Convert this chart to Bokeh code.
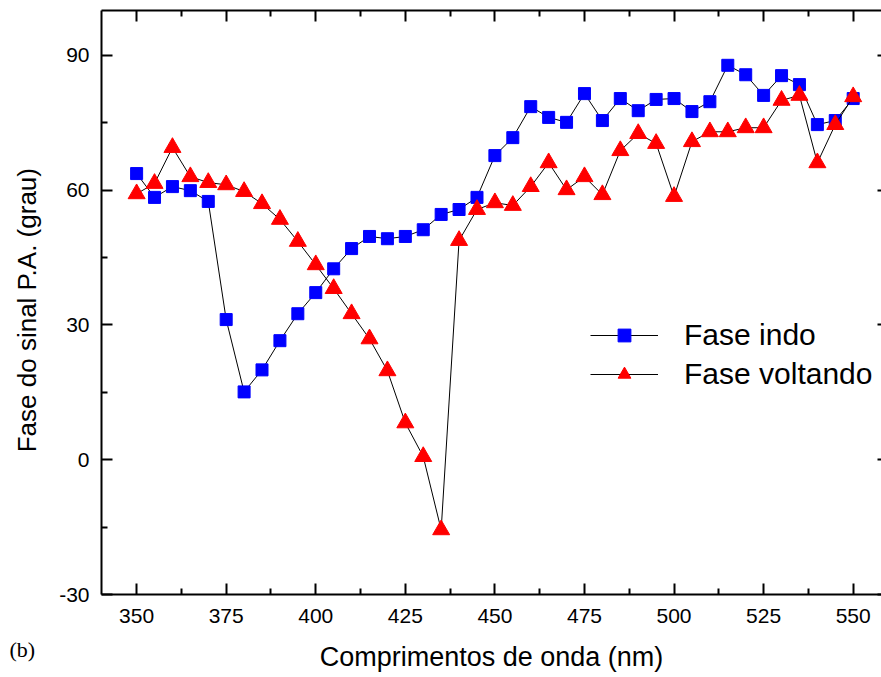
import math
from bokeh.plotting import figure
from bokeh.models import (ColumnDataSource, LinearAxis, FixedTicker, Range1d,
                          Legend, LegendItem, Label)
from bokeh.embed import file_html
from bokeh.resources import INLINE

# ---- data -----------------------------------------------------------------
wavelength = list(range(350, 551, 5))

fase_indo = [63.7, 58.4, 60.8, 59.9, 57.5, 31.2, 15.1, 20.0, 26.5, 32.5,
             37.2, 42.5, 47.0, 49.7, 49.2, 49.7, 51.2, 54.6, 55.7, 58.4,
             67.7, 71.7, 78.6, 76.2, 75.1, 81.5, 75.5, 80.4, 77.7, 80.2,
             80.4, 77.5, 79.7, 87.8, 85.7, 81.1, 85.5, 83.5, 74.6, 75.5,
             80.4]

fase_voltando = [59.2, 61.5, 69.5, 63.0, 61.7, 61.2, 59.7, 57.0, 53.5, 48.6,
                 43.4, 38.1, 32.5, 26.9, 19.8, 8.2, 0.7, -15.6, 48.8, 55.7,
                 57.2, 56.6, 60.8, 66.1, 60.1, 63.0, 59.0, 68.8, 72.6, 70.4,
                 58.6, 70.8, 73.0, 73.0, 73.9, 73.9, 80.0, 81.1, 66.1, 74.6,
                 80.8]

x_ticks = [350, 375, 400, 425, 450, 475, 500, 525, 550]
x_minor = [362.5, 387.5, 412.5, 437.5, 462.5, 487.5, 512.5, 537.5, 562.5]
y_ticks = [-30, 0, 30, 60, 90]
y_tick_labels = ["-30", "0", "30", "60", "90"]
y_minor = [-15, 15, 45, 75]

series_names = ["Fase indo", "Fase voltando"]
x_label = "Comprimentos de onda (nm)"
y_label = "Fase do sinal P.A.  (grau)"
panel_tag = "(b)"

# ---- figure ---------------------------------------------------------------
FONT = "Liberation Sans"

p = figure(width=881, height=677, output_backend="svg", toolbar_location=None,
           x_range=Range1d(340.2, 557.9), y_range=Range1d(-30, 100),
           x_axis_location=None, y_axis_location=None,
           min_border_left=100, min_border_right=0,
           min_border_top=10, min_border_bottom=83)
p.outline_line_color = None
p.xgrid.visible = False
p.ygrid.visible = False
p.background_fill_color = "white"
p.border_fill_color = "white"

xt = FixedTicker(ticks=x_ticks, minor_ticks=x_minor)
yt = FixedTicker(ticks=y_ticks, minor_ticks=y_minor)


def style(ax, labels=True):
    ax.axis_line_width = 2
    ax.axis_line_color = "black"
    ax.major_tick_line_width = 2
    ax.minor_tick_line_width = 2
    ax.major_tick_line_color = "black"
    ax.minor_tick_line_color = "black"
    ax.major_tick_in = 11
    ax.major_tick_out = 0
    ax.minor_tick_in = 6
    ax.minor_tick_out = 0
    if labels:
        ax.major_label_text_font = FONT
        ax.major_label_text_font_size = "21px"
        ax.major_label_text_color = "black"
        ax.axis_label_text_font = FONT
        ax.axis_label_text_font_style = "normal"
        ax.axis_label_text_color = "black"
    else:
        ax.major_label_overrides = {t: "" for t in ax.ticker.ticks}
        ax.major_label_standoff = 0
        ax.axis_label = None


bottom = LinearAxis(ticker=xt, axis_label=x_label)
style(bottom)
bottom.axis_label_text_font_size = "27px"
bottom.major_label_standoff = 14
bottom.axis_label_standoff = 16
p.add_layout(bottom, "below")

left = LinearAxis(ticker=yt)
style(left)
left.major_label_overrides = dict(zip(y_ticks, y_tick_labels))
left.major_label_standoff = 12
p.add_layout(left, "left")

top = LinearAxis(ticker=xt)
style(top, labels=False)
p.add_layout(top, "above")

right = LinearAxis(ticker=yt)
style(right, labels=False)
right.axis_line_color = None
right.major_tick_in = 4
right.minor_tick_in = 0
p.add_layout(right, "right")

# ---- data glyphs ----------------------------------------------------------
src = ColumnDataSource(dict(x=wavelength, a=fase_indo, b=fase_voltando))

l1 = p.line("x", "a", source=src, line_color="black", line_width=1)
m1 = p.scatter("x", "a", source=src, marker="square", size=12,
               fill_color="#0000FF", line_color="#0000FF", line_width=1)
l2 = p.line("x", "b", source=src, line_color="black", line_width=1)
m2 = p.scatter("x", "b", source=src, marker="triangle", size=17,
               fill_color="#FF0000", line_color="#FF0000", line_width=1)

legend = Legend(items=[LegendItem(label=series_names[0], renderers=[l1, m1]),
                       LegendItem(label=series_names[1], renderers=[l2, m2])],
                location=(489, 203))
legend.border_line_color = None
legend.background_fill_alpha = 0
legend.padding = 0
legend.margin = 0
legend.spacing = 5
legend.glyph_width = 68
legend.glyph_height = 32
legend.label_height = 32
legend.label_standoff = 26
legend.label_text_font = FONT
legend.label_text_font_size = "30px"
legend.label_text_color = "black"
p.add_layout(legend)

# y-axis title and panel tag as labels living in the left side panel
ylab = Label(x=319.3, y=34.1, text=y_label, angle=math.pi / 2,
             text_font=FONT, text_font_size="26px", text_color="black",
             text_align="center", text_baseline="middle")
p.add_layout(ylab, "left")

tag = Label(x=314.5, y=-42.2, text=panel_tag,
            text_font="Liberation Serif", text_font_size="22px",
            text_color="black", text_baseline="middle", text_align="left")
p.add_layout(tag, "left")

open("out.html", "w").write(file_html(p, INLINE))
